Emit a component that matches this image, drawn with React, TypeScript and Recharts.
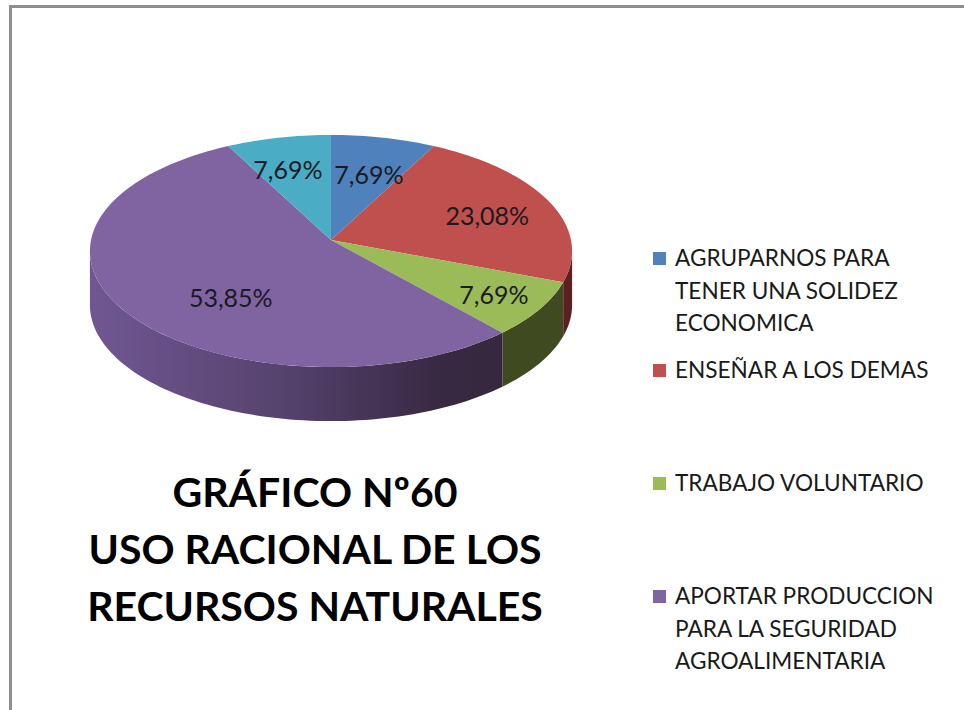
import { PieChart, Pie, Cell, Legend } from 'recharts';

const categories = [
  'AGRUPARNOS PARA TENER UNA SOLIDEZ ECONOMICA',
  'ENSEÑAR A LOS DEMAS',
  'TRABAJO VOLUNTARIO',
  'APORTAR PRODUCCION PARA LA SEGURIDAD AGROALIMENTARIA',
  'OTROS',
];
const counts = [1, 3, 1, 7, 1];
const colors = ['#4f81bd', '#c0504d', '#9bbb59', '#8064a2', '#4bacc6'];
const sideColors = ['#2b4a6f', '#5c2020', '#3f4a21', 'url(#purpleSide)', '#2a6071'];

// how far out each percent label sits, as a share of the radius
const labelReachX = [0.72, 0.72, 0.78, 0.48, 0.82];
const labelReachY = [0.65, 0.63, 0.78, 0.83, 0.69];

const legendLines = [
  ['AGRUPARNOS PARA', 'TENER UNA SOLIDEZ', 'ECONOMICA'],
  ['ENSEÑAR A LOS DEMAS'],
  ['TRABAJO VOLUNTARIO'],
  ['APORTAR PRODUCCION', 'PARA LA SEGURIDAD', 'AGROALIMENTARIA'],
];
const legendTops = [242, 354, 467, 580];

const titleLines = ['GRÁFICO Nº60', 'USO RACIONAL DE LOS', 'RECURSOS NATURALES'];

const data = categories.map((name, i) => ({ name, value: counts[i] }));

// the disc is drawn tilted, the far side looks a bit smaller than the near one
const SQUASH = 115 / 240;
const PERSPECTIVE = 0.095;
const DEPTH = 54;
const FONT = 'Lato, Carlito, sans-serif';

function project(cx: number, cy: number, r: number, theta: number) {
  const t = (theta * Math.PI) / 180;
  const w = 1 + PERSPECTIVE * Math.cos(t);
  return {
    x: cx + (r * Math.sin(t)) / w,
    y: cy - (r * SQUASH * Math.cos(t)) / w,
  };
}

function arcPoints(cx: number, cy: number, r: number, from: number, to: number) {
  const pts = [];
  const steps = Math.max(2, Math.ceil((to - from) / 1.5));
  for (let i = 0; i <= steps; i++) {
    pts.push(project(cx, cy, r, from + ((to - from) * i) / steps));
  }
  return pts;
}

function TiltedSlice(props: any) {
  const { cx, cy, outerRadius, startAngle, endAngle, fill, index } = props;
  const from = 90 - startAngle;
  const to = 90 - endAngle;
  const top = arcPoints(cx, cy, outerRadius, from, to);
  const topPath =
    `M${cx},${cy} ` + top.map((p) => `L${p.x},${p.y}`).join(' ') + ' Z';

  // only the front part of the rim can be seen
  const sideFrom = Math.max(from, 95.4);
  const sideTo = Math.min(to, 264.6);
  let sidePath = '';
  if (sideTo > sideFrom) {
    const rim = arcPoints(cx, cy, outerRadius, sideFrom, sideTo);
    const lower = rim.slice().reverse().map((p) => `L${p.x},${p.y + DEPTH}`);
    sidePath = rim.map((p, i) => `${i ? 'L' : 'M'}${p.x},${p.y}`).join(' ') + ' ' + lower.join(' ') + ' Z';
  }

  return (
    <g>
      {sidePath && <path d={sidePath} fill={sideColors[index]} />}
      <path d={topPath} fill={fill} />
    </g>
  );
}

function percentLabel(props: any) {
  const { cx, cy, outerRadius, midAngle, percent, index } = props;
  const t = ((90 - midAngle) * Math.PI) / 180;
  const w = 1 + PERSPECTIVE * Math.cos(t);
  const x = cx + (labelReachX[index] * outerRadius * Math.sin(t)) / w;
  const y = cy - (labelReachY[index] * outerRadius * SQUASH * Math.cos(t)) / w;
  return (
    <text
      x={x}
      y={y}
      textAnchor="middle"
      dominantBaseline="central"
      fill="#1a1a22"
      fontFamily={FONT}
      fontSize={25}
    >
      {(percent * 100).toFixed(2).replace('.', ',') + '%'}
    </text>
  );
}

function LegendBlock() {
  return (
    <div style={{ position: 'relative', width: 311, height: 450, fontFamily: FONT }}>
      {legendLines.map((lines, i) => (
        <div key={i} style={{ position: 'absolute', left: 0, top: legendTops[i] - 242 }}>
          <div
            style={{
              position: 'absolute',
              left: 0,
              top: 10,
              width: 13,
              height: 13,
              background: colors[i],
            }}
          />
          {lines.map((line) => (
            <div
              key={line}
              style={{
                marginLeft: 22,
                fontSize: 22.6,
                lineHeight: '32.7px',
                color: '#1a1a1a',
                whiteSpace: 'nowrap',
              }}
            >
              {line}
            </div>
          ))}
        </div>
      ))}
    </div>
  );
}

export default function App() {
  return (
    <div style={{ position: 'absolute', left: 0, top: 0, width: 964, height: 710, background: '#fff', overflow: 'hidden' }}>
      {/* grey frame of the pasted chart, only top and left show */}
      <div
        style={{
          position: 'absolute',
          left: 9,
          top: 5,
          width: 960,
          height: 720,
          border: '3px solid #8e8e8e',
          boxSizing: 'border-box',
        }}
      />
      <PieChart
        width={964}
        height={710}
        margin={{ top: 0, right: 0, bottom: 0, left: 0 }}
        style={{ position: 'absolute', left: 0, top: 0 }}
      >
        <defs>
          <linearGradient id="purpleSide" gradientUnits="userSpaceOnUse" x1={90} y1={0} x2={503} y2={0}>
            <stop offset="0%" stopColor="#705792" />
            <stop offset="45%" stopColor="#57436f" />
            <stop offset="85%" stopColor="#382942" />
            <stop offset="100%" stopColor="#36283f" />
          </linearGradient>
        </defs>
        <Pie
          data={data}
          dataKey="value"
          nameKey="name"
          cx={331}
          cy={240}
          outerRadius={240}
          startAngle={90}
          endAngle={-270}
          stroke="none"
          label={percentLabel}
          labelLine={false}
          shape={TiltedSlice}
          isAnimationActive={false}
        >
          {data.map((d, i) => (
            <Cell key={d.name} fill={colors[i]} />
          ))}
        </Pie>
        <Legend
          content={() => <LegendBlock />}
          wrapperStyle={{ position: 'absolute', left: 653, top: 242, width: 311, height: 450 }}
        />
      </PieChart>
      <div
        style={{
          position: 'absolute',
          left: 15,
          top: 463,
          width: 600,
          textAlign: 'center',
          fontFamily: FONT,
          fontWeight: 700,
          fontSize: 41,
          lineHeight: '57px',
          color: '#000',
        }}
      >
        {titleLines.map((line) => (
          <div key={line}>{line}</div>
        ))}
      </div>
    </div>
  );
}
